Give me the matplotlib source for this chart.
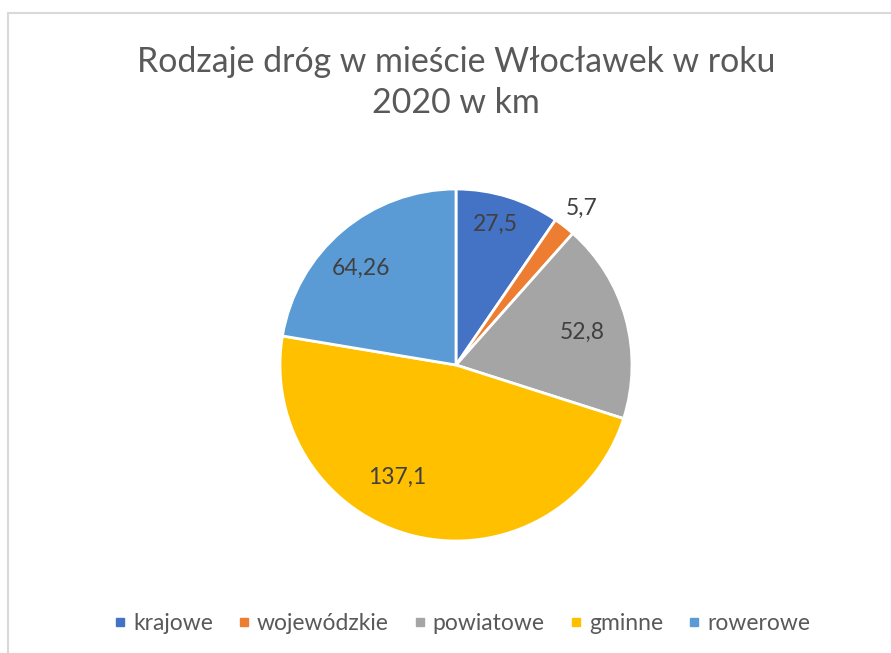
import numpy as np
import matplotlib.pyplot as plt
from matplotlib.patches import Rectangle
from matplotlib.lines import Line2D

plt.rcParams['font.family'] = ['Lato', 'DejaVu Sans']

categories = ['krajowe', 'wojewódzkie', 'powiatowe', 'gminne', 'rowerowe']
values = [27.5, 5.7, 52.8, 137.1, 64.26]
value_labels = ['27,5', '5,7', '52,8', '137,1', '64,26']
colors = ['#4472C4', '#ED7D31', '#A5A5A5', '#FFC000', '#5B9BD5']

# label placement: (radius fraction, angle shift in degrees)
label_pos = [(0.83, 1.7), (1.14, -0.7), (0.74, -1.0), (0.72, -14.0), (0.77, 4.0)]

fig = plt.figure(figsize=(8.91, 6.53), dpi=100)

# chart area border (right and bottom edges fall outside the image)
fig.patches.append(Rectangle((8 / 891, -0.1), 1.2, 1.1 - 13 / 653,
                             transform=fig.transFigure, fill=False,
                             edgecolor='#D9D9D9', linewidth=1.5))

ax = fig.add_axes([280 / 891, (653 - 541) / 653, 352 / 891, 352 / 653])
wedges, _ = ax.pie(values, colors=colors, startangle=90, counterclock=False,
                   wedgeprops=dict(edgecolor='white', linewidth=2))
ax.set_xlim(-1, 1)
ax.set_ylim(-1, 1)
ax.set_aspect('equal')
ax.axis('off')

for w, lab, (r, shift) in zip(wedges, value_labels, label_pos):
    ang = np.deg2rad((w.theta1 + w.theta2) / 2 + shift)
    ax.text(r * np.cos(ang), r * np.sin(ang), lab, ha='center', va='center',
            fontsize=16.5, color='#404040', clip_on=False)

fig.text(0.512, 1 - 62 / 653, 'Rodzaje dróg w mieście Włocławek w roku',
         ha='center', va='center', fontsize=24.4, color='#595959')
fig.text(0.512, 1 - 103 / 653, '2020 w km',
         ha='center', va='center', fontsize=24.4, color='#595959')

handles = [Line2D([], [], marker='s', linestyle='', markersize=5.5,
                  markerfacecolor=c, markeredgecolor=c) for c in colors]
leg = fig.legend(handles, categories, loc='center', ncol=5,
                 bbox_to_anchor=(0.518, 1 - 624 / 653), frameon=False,
                 fontsize=16.5, handlelength=0.6, handletextpad=0.27,
                 columnspacing=1.05, borderaxespad=0)
for t in leg.get_texts():
    t.set_color('#595959')

fig.savefig('out.png', dpi=100)
